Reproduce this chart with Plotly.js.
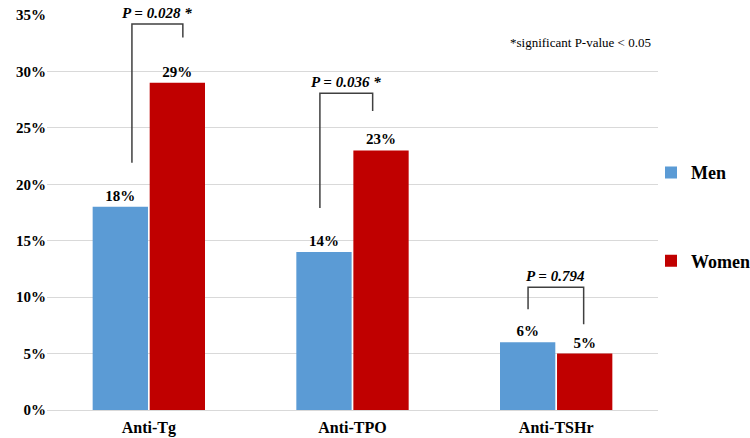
<!DOCTYPE html>
<html>
<head>
<meta charset="utf-8">
<script src="https://cdn.plot.ly/plotly-3.0.1.min.js"></script>
<style>html,body{margin:0;padding:0;background:#fff;}#chart{width:750px;height:438px;}</style>
</head>
<body>
<div id="chart"></div>
<script>
const categories = ["Anti-Tg", "Anti-TPO", "Anti-TSHr"];
const menValues = [18, 14, 6];
const womenValues = [29, 23, 5];
const pLabels = ["P = 0.028 *", "P = 0.036 *", "P = 0.794"];
const noteText = "*significant P-value < 0.05";
// bracket geometry in data units: [xLeft, xRight, yTop, yLeftBottom, yRightBottom]
const brackets = [
  [-0.083, 0.167, 34.2, 21.9, 33.0],
  [0.84, 1.099, 28.06, 17.9, 26.5],
  [1.862, 2.135, 10.87, 8.92, 7.6]
];

const serif = "'Liberation Serif', Tinos, 'Times New Roman', 'DejaVu Serif', serif";

const traces = [
  {
    type: "bar", name: "Men", x: categories, y: menValues,
    marker: {color: "#5B9BD5"},
    text: menValues.map(v => v + "%"), textposition: "outside",
    textfont: {family: serif, size: 15, color: "#000", weight: "bold"},
    cliponaxis: false, legendgroup: "a", hoverinfo: "x+y"
  },
  {
    type: "bar", name: "Women", x: categories, y: womenValues,
    marker: {color: "#C00000"},
    text: womenValues.map(v => v + "%"), textposition: "outside",
    textfont: {family: serif, size: 15, color: "#000", weight: "bold"},
    cliponaxis: false, legendgroup: "b", hoverinfo: "x+y"
  }
];

const shapes = [];
const annotations = [];
brackets.forEach((b, i) => {
  const [xl, xr, yt, ylb, yrb] = b;
  shapes.push({
    type: "path", xref: "x", yref: "y",
    path: `M ${xl},${ylb} L ${xl},${yt} L ${xr},${yt} L ${xr},${yrb}`,
    line: {color: "#404040", width: 1.5}
  });
  annotations.push({
    x: (xl + xr) / 2, y: yt, xref: "x", yref: "y",
    text: "<b><i>" + pLabels[i] + "</i></b>", showarrow: false,
    yanchor: "bottom", yshift: 1,
    font: {family: serif, size: 15, color: "#000"}
  });
});
annotations.push({
  x: (653 - 47) / 611, y: (410 - 42) / 395, xref: "paper", yref: "paper",
  xanchor: "right", yanchor: "middle",
  text: noteText, showarrow: false,
  font: {family: serif, size: 13, color: "#000"}
});

const layout = {
  width: 750, height: 438,
  margin: {l: 47, r: 92, t: 15, b: 28, autoexpand: false},
  paper_bgcolor: "#fff", plot_bgcolor: "#fff",
  barmode: "group", bargap: 0.44, bargroupgap: 0.03,
  font: {family: serif, color: "#000"},
  xaxis: {
    type: "category", showgrid: false, zeroline: false, showline: false,
    ticks: "", ticklabelstandoff: 6,
    tickfont: {family: serif, size: 16, color: "#000", weight: "bold"}
  },
  yaxis: {
    range: [0, 35], dtick: 5, ticksuffix: "%",
    showgrid: true, gridcolor: "#d9d9d9", gridwidth: 1,
    zeroline: true, zerolinecolor: "#d9d9d9", zerolinewidth: 1,
    showline: false, ticks: "",
    tickfont: {family: serif, size: 15, color: "#000", weight: "bold"}
  },
  legend: {
    xref: "container", yref: "container",
    x: 0.868, xanchor: "left", y: 0.648, yanchor: "top",
    traceorder: "grouped", tracegroupgap: 62,
    font: {family: serif, size: 18, color: "#000", weight: "bold"},
    bgcolor: "rgba(0,0,0,0)"
  },
  shapes: shapes,
  annotations: annotations
};

Plotly.newPlot("chart", traces, layout, {displayModeBar: false, staticPlot: true});
</script>
</body>
</html>
